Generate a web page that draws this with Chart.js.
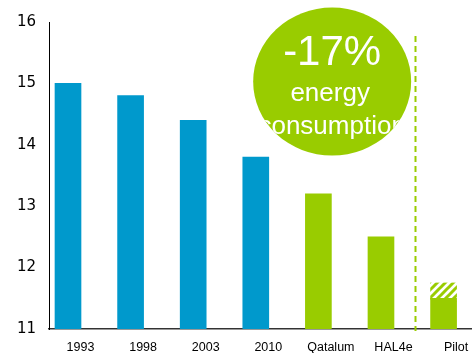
<!DOCTYPE html>
<html>
<head>
<meta charset="utf-8">
<script src="https://cdn.jsdelivr.net/npm/chart.js@4"></script>
<style>
  html, body { margin: 0; padding: 0; background: #fff; }
  #box { width: 472px; height: 353px; }
</style>
</head>
<body>
<div id="box"><canvas id="grafico"></canvas></div>
<script>
// Smelter generations and their energy use
var categorias = ['1993', '1998', '2003', '2010', 'Qatalum', 'HAL4e', 'Pilot']
var valores = [15.0, 14.8, 14.4, 13.8, 13.2, 12.5, 11.5]
var coresBarras = ['#0099cc', '#0099cc', '#0099cc', '#0099cc', '#99cc00', '#99cc00', '#99cc00']
var faixaPilot = [11.45, 11.75]   // target range drawn hatched on the pilot bar
var ticksY = [11, 12, 13, 14, 15, 16]

var textoSelo = ['-17%', 'energy', 'consumption']

const azul = '#0099cc'
const verde = '#99cc00'

//Hatch pattern for the pilot range
function criaHachura(){
    const c = document.createElement('canvas')
    c.width = 8
    c.height = 8
    const g = c.getContext('2d')
    g.fillStyle = '#ffffff'
    g.fillRect(0, 0, 8, 8)
    g.strokeStyle = verde
    g.lineWidth = 3
    g.beginPath()
    g.moveTo(-2, 10); g.lineTo(10, -2)
    g.moveTo(-2, 2); g.lineTo(2, -2)
    g.moveTo(6, 10); g.lineTo(10, 6)
    g.stroke()
    return g.createPattern(c, 'repeat')
}

//Dashed divider between the plants and the pilot, plus the green badge
const extras = {
  id: 'extras',
  afterDatasetsDraw(chart){
    const ctx = chart.ctx
    const x = chart.scales.x
    const y = chart.scales.y

    // divider
    const xd = Math.round(x.getPixelForValue(5.55)) + 0.5
    ctx.save()
    ctx.strokeStyle = verde
    ctx.lineWidth = 2
    ctx.setLineDash([6, 4])
    ctx.beginPath()
    ctx.moveTo(xd, y.getPixelForValue(15.77))
    ctx.lineTo(xd, y.bottom + 2)
    ctx.stroke()
    ctx.restore()

    // badge
    const cx = x.getPixelForValue(4.22)
    const cy = y.getPixelForValue(15.03)
    ctx.save()
    ctx.beginPath()
    ctx.ellipse(cx, cy, 79, 74, 0, 0, Math.PI * 2)
    ctx.fillStyle = verde
    ctx.fill()
    ctx.clip()
    ctx.fillStyle = '#ffffff'
    ctx.textAlign = 'center'
    ctx.textBaseline = 'alphabetic'
    ctx.font = '42px "Liberation Sans", Arial, sans-serif'
    ctx.fillText(textoSelo[0], cx, cy - 17)
    ctx.font = '26px "Liberation Sans", Arial, sans-serif'
    ctx.fillText(textoSelo[1], cx - 2, cy + 19)
    ctx.fillText(textoSelo[2], cx, cy + 52)
    ctx.restore()
  }
}

const ctx = document.getElementById('grafico')

let grafico = new Chart(ctx, {
  type: 'bar',
  data: {
    datasets: [{
      data: [{ x: 6, y: faixaPilot }],
      backgroundColor: criaHachura(),
      barThickness: 26,
      grouped: false,
      order: 2
    }, {
      data: valores.map((v, i) => ({ x: i, y: v })),
      backgroundColor: coresBarras,
      base: 11,
      barThickness: 26,
      grouped: false,
      order: 1
    }]
  },
  options: {
    responsive: true,
    maintainAspectRatio: false,
    animation: false,
    layout: { padding: { top: 21, right: 0, left: 0, bottom: 0 } },
    plugins: {
      legend: { display: false },
      tooltip: { enabled: false }
    },
    scales: {
      x: {
        type: 'linear',
        offset: false,
        min: -0.3035,
        max: 6.454,
        afterBuildTicks: (s) => { s.ticks = categorias.map((c, i) => ({ value: i })) },
        afterFit: (s) => { s.height = 24 },
        grid: { display: false, drawTicks: false },
        border: { display: true, color: '#333333', width: 1.5 },
        ticks: {
          callback: (v) => categorias[v],
          labelOffset: 12.5,
          padding: 11,
          maxRotation: 0,
          autoSkip: false,
          color: '#000000',
          font: { family: '"Liberation Sans", Arial, sans-serif', size: 12.5 }
        }
      },
      y: {
        min: 11,
        max: 16,
        afterBuildTicks: (s) => { s.ticks = ticksY.map(v => ({ value: v })) },
        afterFit: (s) => { s.width = 49 },
        grid: { display: false, drawTicks: false },
        border: { display: true, color: '#000000', width: 1 },
        ticks: {
          padding: 13,
          color: '#000000',
          font: { family: '"DejaVu Sans", Verdana, sans-serif', size: 15 }
        }
      }
    }
  },
  plugins: [extras]
});
</script>
</body>
</html>
